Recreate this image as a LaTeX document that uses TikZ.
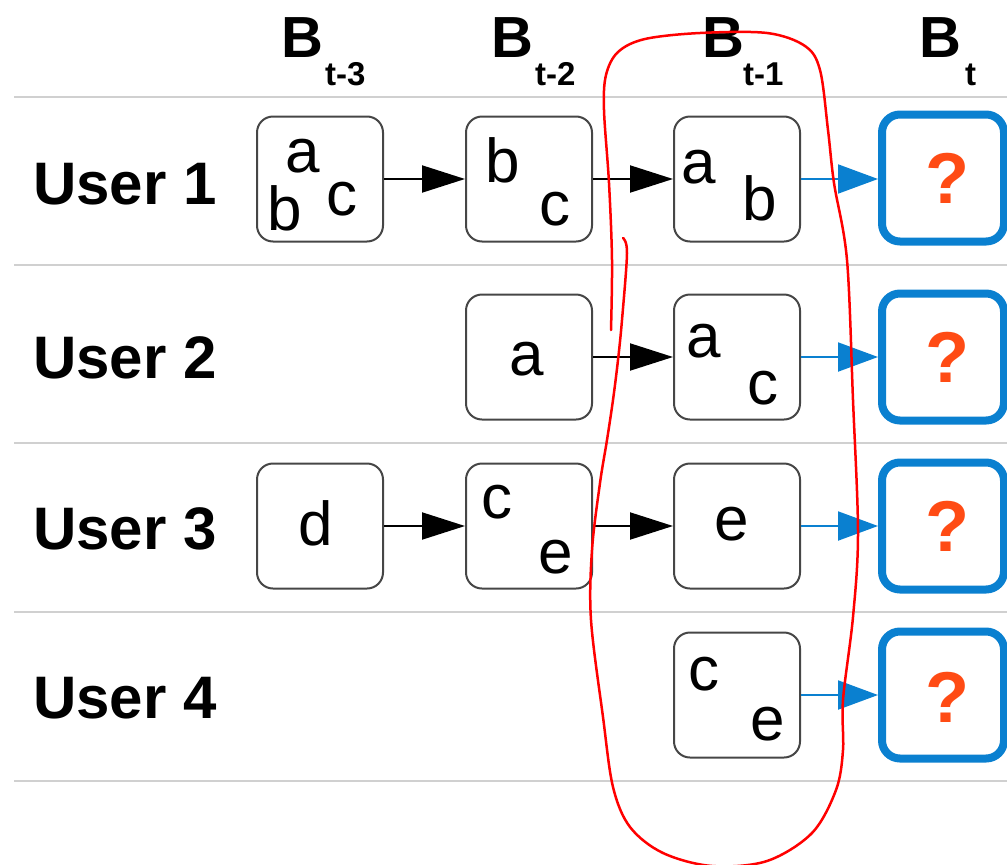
\documentclass[tikz,border=0pt]{standalone}
\usepackage{fontspec}
\setmainfont{Liberation Sans}
\usetikzlibrary{arrows.meta}
\definecolor{gridgray}{RGB}{208,208,208}
\definecolor{boxgray}{RGB}{70,70,70}
\definecolor{qblue}{RGB}{10,128,208}
\definecolor{qorange}{RGB}{255,75,20}
\definecolor{penred}{RGB}{255,0,0}
\begin{document}
\begin{tikzpicture}[x=1pt,y=-1pt,
  sbox/.style={draw=boxgray, line width=2pt, rounded corners=16pt, minimum width=126pt, minimum height=125pt, inner sep=0pt},
  qbox/.style={draw=qblue, line width=8pt, rounded corners=18pt, minimum width=122pt, minimum height=127pt, inner sep=0pt},
  letter/.style={font=\fontsize{62}{62}\selectfont, anchor=base, inner sep=0pt},
  qmark/.style={font=\fontsize{72}{72}\selectfont\bfseries, text=qorange, anchor=base, inner sep=0pt},
  userlbl/.style={font=\fontsize{60}{60}\selectfont\bfseries, anchor=base west, inner sep=0pt},
  hdrB/.style={font=\fontsize{58}{58}\selectfont\bfseries, anchor=base west, inner sep=0pt},
  hdrsub/.style={font=\fontsize{33}{33}\selectfont\bfseries, anchor=base west, inner sep=0pt},
  gridline/.style={draw=gridgray, line width=2.5pt},
  blackarr/.style={draw=black, line width=2pt, -{Triangle[length=43pt,width=27pt]}},
  bluearr/.style={draw=qblue, line width=2pt, -{Triangle[length=40pt,width=29pt]}},
  penline/.style={draw=penred, line width=2.5pt, line cap=round, line join=round}
]
\useasboundingbox (0,0) rectangle (1007,865);

% grid lines
\foreach \yy/\nm in {97/g0,265/g1,443/g2,612/g3,781/g4}{
  \coordinate (\nm a) at (14,\yy);
  \coordinate (\nm b) at (1012,\yy);
  \draw[gridline] (\nm a) -- (\nm b);
}

% headers
\node[hdrB] (B3) at (281,57) {B};
\node[hdrsub] (s3) at (325,85) {t-3};
\node[hdrB] (B2) at (491,57) {B};
\node[hdrsub] (s2) at (535,85) {t-2};
\node[hdrB] (B1) at (702,57) {B};
\node[hdrsub] (s1) at (743,85) {t-1};
\node[hdrB] (B0) at (919,57) {B};
\node[hdrsub] (s0) at (965,85) {t};

% user labels
\node[userlbl] (u1) at (33,204) {User 1};
\node[userlbl] (u2) at (33,378) {User 2};
\node[userlbl] (u3) at (33,549) {User 3};
\node[userlbl] (u4) at (33,718) {User 4};

% boxes
\node[sbox] (b11) at (320,179) {};
\node[sbox] (b12) at (529,179) {};
\node[sbox] (b13) at (737,179) {};
\node[qbox] (q1) at (943,178) {};

\node[sbox] (b22) at (529,357) {};
\node[sbox] (b23) at (737,357) {};
\node[qbox] (q2) at (943,357) {};

\node[sbox] (b31) at (320,526) {};
\node[sbox] (b32) at (529,526) {};
\node[sbox] (b33) at (737,526) {};
\node[qbox] (q3) at (943,526) {};

\node[sbox] (b43) at (737,695) {};
\node[qbox] (q4) at (943,695) {};

% letters
\node[letter] (l11a) at (303,172) {a};
\node[letter] (l11b) at (285,230) {b};
\node[letter] (l11c) at (342,215) {c};
\node[letter] (l12b) at (503,182) {b};
\node[letter] (l12c) at (555,225) {c};
\node[letter] (l13a) at (699,183) {a};
\node[letter] (l13b) at (760,220) {b};

\node[letter] (l22a) at (527,375) {a};
\node[letter] (l23a) at (704,357) {a};
\node[letter] (l23c) at (763,404) {c};

\node[letter] (l31d) at (316,545) {d};
\node[letter] (l32c) at (497,518) {c};
\node[letter] (l32e) at (556,573) {e};
\node[letter] (l33e) at (732,540) {e};

\node[letter] (l43c) at (704,690) {c};
\node[letter] (l43e) at (768,740) {e};

% question marks
\node[qmark] (qm1) at (947,203) {?};
\node[qmark] (qm2) at (947,382) {?};
\node[qmark] (qm3) at (947,551) {?};
\node[qmark] (qm4) at (947,722) {?};

% arrows
\draw[blackarr] (b11.east) -- (b12.west);
\draw[blackarr] (b12.east) -- (b13.west);
\draw[blackarr] (b22.east) -- (b23.west);
\draw[blackarr] (b31.east) -- (b32.west);
\draw[blackarr] (b32.east) -- (b33.west);
\draw[bluearr] (b13.east) -- (q1.west |- b13.east);
\draw[bluearr] (b23.east) -- (q2.west |- b23.east);
\draw[bluearr] (b33.east) -- (q3.west |- b33.east);
\draw[bluearr] (b43.east) -- (q4.west |- b43.east);

% hand-drawn red loop
\draw[penline] plot[smooth, tension=0.55] coordinates {
 (611,330) (612,260) (609,183) (604,110) (606,75) (618,52) (645,39) (700,33)
 (767,33) (805,46) (820,70) (828,130) (834,183) (847,260) (853,400) (858,533)
 (853,617) (843,700) (843,750) (836,790) (812,833) (767,861) (712,866) (663,853)
 (630,827) (613,787) (603,717) (591,620) (592,550) (600,483) (607,440) (613,400)
 (618,360) (622,320) (627,253) (623,238)};
\end{tikzpicture}
\end{document}
